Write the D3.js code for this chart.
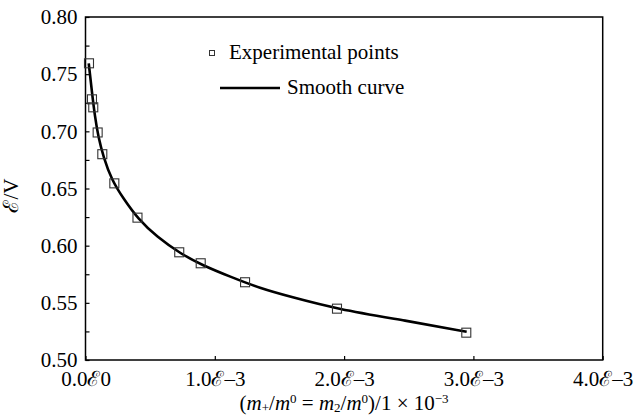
<!DOCTYPE html>
<html><head><meta charset="utf-8">
<script src="https://cdn.jsdelivr.net/npm/d3@7"></script>
<style>body{margin:0;background:#fff}svg{display:block}svg text{font-family:"Liberation Serif","DejaVu Serif","Times New Roman",Times,serif !important;fill:#000}</style>
</head><body><svg id="c" width="637" height="416"></svg>
<script>
// x values in units of 1e-3
const pointX = [0.027, 0.050, 0.060, 0.094, 0.130, 0.223, 0.402, 0.725, 0.891, 1.234, 1.945, 2.945];
const pointY = [0.7595, 0.728, 0.721, 0.699, 0.680, 0.6545, 0.6245, 0.5942, 0.5846, 0.568, 0.5449, 0.5239];
const curveX = [0.025, 0.048, 0.073, 0.099, 0.138, 0.203, 0.292, 0.408, 0.551, 0.731, 0.899, 1.118, 1.350, 1.582, 1.943, 2.484, 2.948];
const curveY = [0.7595, 0.7361, 0.7128, 0.6953, 0.6778, 0.6574, 0.6414, 0.6231, 0.6078, 0.5933, 0.5831, 0.5729, 0.5627, 0.5554, 0.5446, 0.5343, 0.5247];
const xTicks = [0, 1, 2, 3, 4];
const xTickLabels = ["0.0\u21300", "1.0\u2130\u20133", "2.0\u2130\u20133", "3.0\u2130\u20133", "4.0\u2130\u20133"];
const yTicks = [0.50, 0.55, 0.60, 0.65, 0.70, 0.75, 0.80];
const yMinorTicks = [0.525, 0.575, 0.625, 0.675, 0.725, 0.775];
const legendLabels = ["Experimental points", "Smooth curve"];

const svg = d3.select("#c");
const L = 85.5, R = 602.7, T = 17, B = 360;
const x = d3.scaleLinear().domain([0, 4]).range([L, R]);
const y = d3.scaleLinear().domain([0.5, 0.8]).range([B, T]);
const FF = '"Liberation Serif","DejaVu Serif",serif';

// frame
svg.append("rect").attr("x", L).attr("y", T).attr("width", R - L).attr("height", B - T)
  .attr("fill", "none").attr("stroke", "#000").attr("stroke-width", 1.5);

const fs = 21;
// y axis
const ya = svg.append("g").attr("transform", `translate(${L},0)`)
  .call(d3.axisLeft(y).tickValues(yTicks).tickFormat(d3.format(".2f")).tickSize(-4).tickPadding(8));
ya.attr("font-family", FF).attr("font-size", fs);
ya.select(".domain").remove();
ya.selectAll("line").attr("stroke-width", 1.2);
const ym = svg.append("g").attr("transform", `translate(${L},0)`)
  .call(d3.axisLeft(y).tickValues(yMinorTicks).tickFormat("").tickSize(-4));
ym.select(".domain").remove();
ym.selectAll("line").attr("stroke-width", 1.2);

// x axis
const xa = svg.append("g").attr("transform", `translate(0,${B})`)
  .call(d3.axisBottom(x).tickValues(xTicks).tickFormat((d, i) => xTickLabels[i]).tickSize(-4).tickPadding(11));
xa.attr("font-family", FF).attr("font-size", fs);
xa.select(".domain").remove();
xa.selectAll("line").attr("stroke-width", 1.2);

// axis titles
svg.append("text").attr("transform", `translate(18,${(T + B) / 2 + 7}) rotate(-90)`)
  .attr("text-anchor", "middle").attr("font-size", fs).text("\u2130/V");

const xt = svg.append("text").attr("x", (L + R) / 2).attr("y", 410).attr("text-anchor", "middle").attr("font-size", fs);
xt.append("tspan").text("(");
xt.append("tspan").attr("font-style", "italic").text("m");
xt.append("tspan").attr("font-size", 13).attr("dy", 2).text("+");
xt.append("tspan").attr("dy", -2).text("/");
xt.append("tspan").attr("font-style", "italic").text("m");
xt.append("tspan").attr("font-size", 13).attr("dy", -7).text("0");
xt.append("tspan").attr("dy", 7).text(" = ");
xt.append("tspan").attr("font-style", "italic").text("m");
xt.append("tspan").attr("font-size", 13).attr("dy", 2).text("2");
xt.append("tspan").attr("dy", -2).text("/");
xt.append("tspan").attr("font-style", "italic").text("m");
xt.append("tspan").attr("font-size", 13).attr("dy", -7).text("0");
xt.append("tspan").attr("dy", 7).text(")/1 \u00d7 10");
xt.append("tspan").attr("font-size", 13).attr("dy", -7).text("\u22123");

// curve
const curveData = curveX.map((d, i) => [d, curveY[i]]);
svg.append("path").datum(curveData)
  .attr("d", d3.line().x(d => x(d[0])).y(d => y(d[1])).curve(d3.curveBasis))
  .attr("fill", "none").attr("stroke", "#000").attr("stroke-width", 2.6);

// points
const pts = pointX.map((d, i) => [d, pointY[i]]);
const sz = 9;
svg.append("g").selectAll("rect").data(pts).join("rect")
  .attr("x", d => x(d[0]) - sz / 2).attr("y", d => y(d[1]) - sz / 2)
  .attr("width", sz).attr("height", sz)
  .attr("fill", "none").attr("stroke", "#333").attr("stroke-width", 1.1);

// legend
svg.append("rect").attr("x", 209.5).attr("y", 50.5).attr("width", 5).attr("height", 5)
  .attr("fill", "none").attr("stroke", "#333").attr("stroke-width", 1);
svg.append("text").attr("x", 229).attr("y", 59).attr("font-size", fs).text(legendLabels[0]);
svg.append("line").attr("x1", 220).attr("x2", 280).attr("y1", 88).attr("y2", 88)
  .attr("stroke", "#000").attr("stroke-width", 2.6);
svg.append("text").attr("x", 287).attr("y", 94).attr("font-size", fs).text(legendLabels[1]);
</script></body></html>
